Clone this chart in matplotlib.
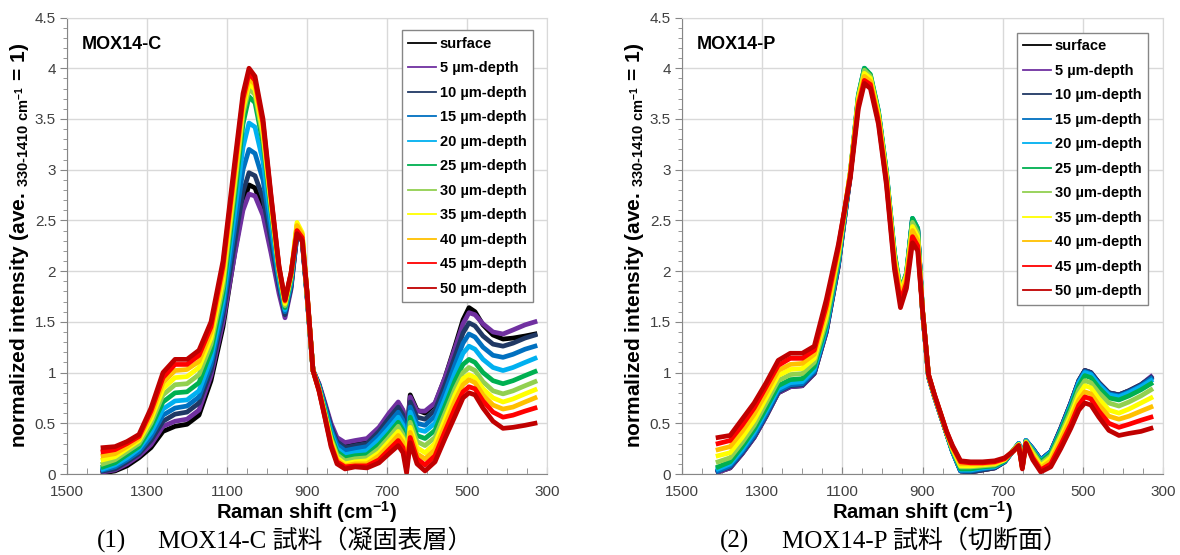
import matplotlib
matplotlib.use("Agg")
import matplotlib.pyplot as plt
from matplotlib.ticker import MultipleLocator, FuncFormatter

plt.rcParams["font.family"] = ["Liberation Sans", "Noto Sans CJK JP", "DejaVu Sans"]
plt.rcParams["mathtext.fontset"] = "custom"
plt.rcParams["mathtext.rm"] = "Liberation Sans"

# Raman shift grid (cm-1) shared by every spectrum
raman_shift = [1410, 1380, 1350, 1320, 1290, 1260, 1230, 1200, 1170, 1140, 1110,
               1080, 1060, 1045, 1030, 1010, 990, 970, 955, 940, 925, 912,
               900, 885, 870, 855, 840, 825, 805, 780, 750, 720, 695,
               672, 660, 651, 642, 625, 605, 580, 555, 530, 510, 495,
               480, 460, 435, 410, 385, 355, 330]
x_ticks = [1500, 1300, 1100, 900, 700, 500, 300]

labels = ["surface", "5 µm-depth", "10 µm-depth", "15 µm-depth", "20 µm-depth",
          "25 µm-depth", "30 µm-depth", "35 µm-depth", "40 µm-depth",
          "45 µm-depth", "50 µm-depth"]
colors = ["#000000", "#7030A0", "#203864", "#0070C0", "#00B0F0", "#00B050",
          "#92D050", "#FFFF00", "#FFC000", "#FF0000", "#C00000"]

# ---- MOX14-C (solidified surface layer) ----
c_surface = [0.01, 0.03, 0.08, 0.16, 0.26, 0.42, 0.47, 0.49, 0.58, 0.92, 1.45,
             2.2, 2.65, 2.85, 2.82, 2.6, 2.22, 1.82, 1.6, 1.85, 2.35, 2.3,
             1.75, 1.02, 0.88, 0.68, 0.48, 0.33, 0.27, 0.3, 0.33, 0.45, 0.58,
             0.7, 0.62, 0.38, 0.78, 0.63, 0.6, 0.69, 0.95, 1.26, 1.52, 1.64,
             1.6, 1.47, 1.37, 1.33, 1.34, 1.36, 1.38]
c_5 = [0.02, 0.04, 0.10, 0.18, 0.29, 0.47, 0.52, 0.54, 0.63, 0.97, 1.50,
       2.18, 2.6, 2.76, 2.74, 2.55, 2.18, 1.78, 1.54, 1.82, 2.36, 2.3,
       1.76, 1.02, 0.89, 0.7, 0.5, 0.36, 0.31, 0.33, 0.35, 0.46, 0.6,
       0.71, 0.63, 0.37, 0.76, 0.62, 0.62, 0.7, 0.95, 1.24, 1.48, 1.59,
       1.57, 1.48, 1.4, 1.38, 1.42, 1.47, 1.5]
c_10 = [0.03, 0.05, 0.12, 0.20, 0.33, 0.52, 0.59, 0.61, 0.70, 1.02, 1.57,
        2.3, 2.78, 2.97, 2.94, 2.72, 2.3, 1.85, 1.57, 1.84, 2.38, 2.31,
        1.76, 1.02, 0.88, 0.68, 0.47, 0.32, 0.26, 0.28, 0.3, 0.42, 0.55,
        0.66, 0.58, 0.33, 0.71, 0.56, 0.54, 0.63, 0.88, 1.16, 1.39, 1.49,
        1.46, 1.36, 1.28, 1.26, 1.29, 1.34, 1.37]
c_15 = [0.04, 0.07, 0.14, 0.22, 0.37, 0.58, 0.65, 0.67, 0.76, 1.08, 1.63,
        2.45, 3.0, 3.2, 3.16, 2.9, 2.4, 1.9, 1.6, 1.87, 2.4, 2.32,
        1.77, 1.02, 0.87, 0.66, 0.44, 0.29, 0.23, 0.25, 0.27, 0.38, 0.5,
        0.61, 0.53, 0.29, 0.66, 0.5, 0.48, 0.57, 0.81, 1.08, 1.29, 1.38,
        1.35, 1.25, 1.17, 1.15, 1.18, 1.23, 1.26]
c_20 = [0.05, 0.09, 0.16, 0.25, 0.41, 0.64, 0.72, 0.73, 0.82, 1.14, 1.70,
        2.6, 3.22, 3.46, 3.42, 3.08, 2.5, 1.94, 1.62, 1.9, 2.42, 2.33,
        1.77, 1.02, 0.86, 0.64, 0.41, 0.25, 0.19, 0.21, 0.23, 0.34, 0.45,
        0.56, 0.48, 0.25, 0.61, 0.44, 0.42, 0.5, 0.74, 1.0, 1.19, 1.26,
        1.23, 1.13, 1.05, 1.02, 1.05, 1.1, 1.14]
c_25 = [0.07, 0.11, 0.19, 0.27, 0.46, 0.71, 0.80, 0.81, 0.90, 1.21, 1.78,
        2.75, 3.45, 3.72, 3.66, 3.26, 2.6, 1.98, 1.64, 1.92, 2.44, 2.34,
        1.78, 1.02, 0.85, 0.62, 0.38, 0.22, 0.16, 0.18, 0.19, 0.29, 0.4,
        0.51, 0.43, 0.21, 0.56, 0.38, 0.35, 0.43, 0.67, 0.92, 1.08, 1.13,
        1.1, 1.0, 0.92, 0.89, 0.92, 0.97, 1.01]
c_30 = [0.10, 0.14, 0.22, 0.30, 0.50, 0.78, 0.88, 0.89, 0.98, 1.28, 1.85,
        2.85, 3.55, 3.8, 3.74, 3.32, 2.64, 2.0, 1.66, 1.94, 2.46, 2.36,
        1.78, 1.02, 0.84, 0.6, 0.35, 0.19, 0.13, 0.15, 0.16, 0.25, 0.36,
        0.47, 0.39, 0.17, 0.51, 0.32, 0.28, 0.36, 0.6, 0.84, 1.0, 1.05,
        1.02, 0.91, 0.82, 0.79, 0.82, 0.87, 0.91]
c_35 = [0.14, 0.17, 0.25, 0.33, 0.54, 0.84, 0.95, 0.96, 1.05, 1.34, 1.92,
        2.92, 3.6, 3.85, 3.79, 3.37, 2.67, 2.02, 1.68, 1.96, 2.48, 2.38,
        1.79, 1.02, 0.83, 0.58, 0.33, 0.16, 0.1, 0.12, 0.13, 0.21, 0.32,
        0.42, 0.35, 0.13, 0.46, 0.26, 0.21, 0.3, 0.54, 0.78, 0.94, 0.98,
        0.95, 0.84, 0.75, 0.71, 0.74, 0.79, 0.83]
c_40 = [0.18, 0.20, 0.27, 0.35, 0.58, 0.90, 1.02, 1.03, 1.11, 1.40, 1.99,
        2.98, 3.65, 3.9, 3.84, 3.42, 2.7, 2.03, 1.7, 1.97, 2.45, 2.36,
        1.79, 1.02, 0.83, 0.57, 0.31, 0.14, 0.08, 0.1, 0.1, 0.18, 0.28,
        0.38, 0.31, 0.09, 0.41, 0.2, 0.15, 0.24, 0.48, 0.72, 0.88, 0.93,
        0.9, 0.78, 0.68, 0.64, 0.66, 0.71, 0.75]
c_45 = [0.22, 0.24, 0.30, 0.37, 0.62, 0.95, 1.08, 1.08, 1.17, 1.45, 2.05,
        3.04, 3.7, 3.95, 3.88, 3.46, 2.73, 2.04, 1.71, 1.98, 2.4, 2.33,
        1.8, 1.02, 0.82, 0.56, 0.29, 0.12, 0.07, 0.08, 0.08, 0.14, 0.24,
        0.33, 0.26, 0.05, 0.36, 0.15, 0.09, 0.18, 0.42, 0.65, 0.81, 0.86,
        0.84, 0.72, 0.61, 0.56, 0.58, 0.62, 0.65]
c_50 = [0.26, 0.27, 0.32, 0.39, 0.65, 1.00, 1.13, 1.13, 1.22, 1.50, 2.10,
        3.1, 3.75, 4.0, 3.92, 3.5, 2.75, 2.05, 1.72, 1.98, 2.37, 2.3,
        1.8, 1.02, 0.82, 0.55, 0.27, 0.1, 0.05, 0.07, 0.06, 0.11, 0.2,
        0.28, 0.21, 0.01, 0.31, 0.1, 0.03, 0.12, 0.35, 0.57, 0.75, 0.8,
        0.78, 0.65, 0.52, 0.45, 0.46, 0.48, 0.5]

# ---- MOX14-P (cut section) ----
p_surface = [0.02, 0.06, 0.2, 0.36, 0.57, 0.8, 0.86, 0.87, 0.99, 1.4, 2.05,
             2.95, 3.7, 3.98, 3.9, 3.55, 2.95, 2.15, 1.78, 1.95, 2.5, 2.4,
             1.6, 0.96, 0.76, 0.58, 0.4, 0.22, 0.03, 0.02, 0.04, 0.06, 0.12,
             0.24, 0.3, 0.08, 0.33, 0.25, 0.14, 0.22, 0.45, 0.7, 0.92, 1.02,
             1.0, 0.9, 0.8, 0.78, 0.82, 0.88, 0.95]
p_5 = [0.02, 0.06, 0.2, 0.36, 0.57, 0.8, 0.86, 0.87, 0.99, 1.4, 2.05,
       2.95, 3.7, 3.98, 3.9, 3.55, 2.95, 2.15, 1.78, 1.95, 2.5, 2.4,
       1.6, 0.96, 0.76, 0.58, 0.4, 0.22, 0.03, 0.02, 0.04, 0.06, 0.12,
       0.24, 0.3, 0.08, 0.33, 0.25, 0.14, 0.22, 0.45, 0.7, 0.92, 1.02,
       1.0, 0.9, 0.8, 0.78, 0.82, 0.88, 0.96]
p_10 = [0.03, 0.07, 0.21, 0.37, 0.58, 0.81, 0.87, 0.88, 1.0, 1.41, 2.06,
        2.96, 3.71, 3.99, 3.91, 3.56, 2.96, 2.16, 1.79, 1.96, 2.51, 2.41,
        1.6, 0.96, 0.76, 0.58, 0.4, 0.22, 0.03, 0.02, 0.04, 0.06, 0.12,
        0.24, 0.3, 0.08, 0.33, 0.25, 0.14, 0.22, 0.45, 0.7, 0.92, 1.02,
        1.0, 0.9, 0.8, 0.78, 0.82, 0.88, 0.95]
p_15 = [0.03, 0.08, 0.22, 0.38, 0.59, 0.82, 0.88, 0.89, 1.01, 1.42, 2.07,
        2.96, 3.72, 4.0, 3.92, 3.57, 2.97, 2.17, 1.8, 1.97, 2.52, 2.42,
        1.61, 0.96, 0.76, 0.58, 0.4, 0.22, 0.03, 0.03, 0.05, 0.07, 0.12,
        0.24, 0.3, 0.08, 0.33, 0.25, 0.14, 0.22, 0.44, 0.69, 0.91, 1.01,
        0.99, 0.89, 0.79, 0.77, 0.81, 0.87, 0.94]
p_20 = [0.05, 0.1, 0.24, 0.41, 0.62, 0.84, 0.9, 0.91, 1.03, 1.44, 2.09,
        2.97, 3.73, 4.0, 3.93, 3.58, 2.98, 2.18, 1.81, 1.98, 2.52, 2.42,
        1.61, 0.97, 0.76, 0.59, 0.4, 0.22, 0.04, 0.04, 0.06, 0.07, 0.13,
        0.24, 0.3, 0.08, 0.33, 0.24, 0.13, 0.21, 0.43, 0.68, 0.9, 1.0,
        0.98, 0.88, 0.78, 0.76, 0.8, 0.86, 0.92]
p_25 = [0.07, 0.12, 0.27, 0.44, 0.65, 0.87, 0.93, 0.94, 1.06, 1.47, 2.11,
        2.97, 3.74, 4.0, 3.94, 3.58, 2.98, 2.18, 1.81, 1.98, 2.52, 2.42,
        1.61, 0.97, 0.77, 0.59, 0.4, 0.23, 0.05, 0.05, 0.07, 0.08, 0.13,
        0.24, 0.29, 0.07, 0.32, 0.23, 0.12, 0.2, 0.42, 0.66, 0.87, 0.97,
        0.95, 0.85, 0.75, 0.73, 0.77, 0.83, 0.89]
p_30 = [0.12, 0.16, 0.31, 0.48, 0.7, 0.92, 0.98, 0.99, 1.1, 1.51, 2.14,
        2.98, 3.72, 3.98, 3.92, 3.56, 2.96, 2.16, 1.8, 1.97, 2.48, 2.38,
        1.61, 0.97, 0.77, 0.59, 0.41, 0.24, 0.07, 0.07, 0.08, 0.09, 0.14,
        0.24, 0.29, 0.07, 0.32, 0.22, 0.1, 0.18, 0.39, 0.62, 0.83, 0.92,
        0.9, 0.8, 0.7, 0.67, 0.71, 0.77, 0.83]
p_35 = [0.18, 0.21, 0.36, 0.53, 0.75, 0.97, 1.03, 1.04, 1.14, 1.56, 2.17,
        2.98, 3.7, 3.95, 3.9, 3.54, 2.94, 2.13, 1.78, 1.95, 2.44, 2.34,
        1.62, 0.97, 0.77, 0.59, 0.41, 0.25, 0.08, 0.08, 0.09, 0.1, 0.14,
        0.24, 0.29, 0.07, 0.31, 0.2, 0.08, 0.16, 0.36, 0.58, 0.78, 0.87,
        0.85, 0.74, 0.63, 0.6, 0.64, 0.7, 0.75]
p_40 = [0.24, 0.27, 0.42, 0.59, 0.8, 1.02, 1.08, 1.09, 1.18, 1.61, 2.2,
        2.97, 3.67, 3.92, 3.87, 3.51, 2.91, 2.1, 1.75, 1.92, 2.4, 2.3,
        1.62, 0.98, 0.77, 0.6, 0.41, 0.26, 0.1, 0.1, 0.1, 0.11, 0.15,
        0.23, 0.28, 0.06, 0.31, 0.18, 0.06, 0.13, 0.33, 0.54, 0.73, 0.81,
        0.79, 0.68, 0.57, 0.54, 0.57, 0.62, 0.66]
p_45 = [0.3, 0.33, 0.48, 0.65, 0.86, 1.07, 1.14, 1.14, 1.22, 1.66, 2.23,
        2.95, 3.64, 3.88, 3.84, 3.48, 2.88, 2.06, 1.7, 1.88, 2.34, 2.25,
        1.62, 0.98, 0.78, 0.6, 0.42, 0.27, 0.12, 0.11, 0.11, 0.12, 0.15,
        0.23, 0.28, 0.06, 0.3, 0.16, 0.04, 0.1, 0.29, 0.49, 0.68, 0.76,
        0.74, 0.62, 0.5, 0.46, 0.49, 0.53, 0.56]
p_50 = [0.36, 0.38, 0.54, 0.7, 0.9, 1.12, 1.19, 1.19, 1.26, 1.72, 2.26,
        2.92, 3.6, 3.85, 3.8, 3.45, 2.85, 2.02, 1.64, 1.83, 2.28, 2.2,
        1.62, 0.98, 0.78, 0.6, 0.42, 0.28, 0.13, 0.12, 0.12, 0.13, 0.16,
        0.23, 0.28, 0.05, 0.3, 0.14, 0.02, 0.07, 0.25, 0.45, 0.63, 0.7,
        0.68, 0.56, 0.43, 0.38, 0.4, 0.42, 0.45]

c_series = [c_surface, c_5, c_10, c_15, c_20, c_25, c_30, c_35, c_40, c_45, c_50]
p_series = [p_surface, p_5, p_10, p_15, p_20, p_25, p_30, p_35, p_40, p_45, p_50]

ylabel = "normalized intensity (ave. $_{\\mathregular{330\u20101410\\ cm^{-1}}}$ = 1)"


def draw_panel(ax, series, name, leg_anchor):
    for ys, lab, col in zip(series, labels, colors):
        ax.plot(raman_shift, ys, color=col, lw=3.4, label=lab,
                solid_joinstyle="round")
    ax.set_xlim(1500, 300)
    ax.set_ylim(0, 4.5)
    ax.set_xticks(x_ticks)
    ax.xaxis.set_minor_locator(MultipleLocator(50))
    ax.yaxis.set_major_locator(MultipleLocator(0.5))
    ax.yaxis.set_minor_locator(MultipleLocator(0.1))
    ax.yaxis.set_major_formatter(FuncFormatter(lambda v, p: "%g" % v))
    ax.grid(True, which="major", color="#d9d9d9", lw=1.0)
    ax.set_axisbelow(True)
    ax.tick_params(axis="x", which="both", direction="in", colors="#868686",
                   labelcolor="#404040", labelsize=11, pad=8)
    ax.tick_params(axis="x", which="major", length=5)
    ax.tick_params(axis="x", which="minor", length=4)
    ax.tick_params(axis="y", which="both", direction="out", colors="#868686",
                   labelcolor="#404040", labelsize=11, pad=3)
    ax.tick_params(axis="y", which="major", length=5)
    ax.tick_params(axis="y", which="minor", length=3)
    for side in ["left", "bottom"]:
        ax.spines[side].set_color("#868686")
    for side in ["top", "right"]:
        ax.spines[side].set_color("#d9d9d9")
    ax.set_xlabel("Raman shift (cm$^{\\mathregular{-1}}$)", fontsize=14.5,
                  fontweight="bold", labelpad=0)
    ax.set_ylabel(ylabel, fontsize=15, fontweight="bold", labelpad=3)
    ax.text(0.031, 0.94, name, transform=ax.transAxes, fontsize=13,
            fontweight="bold", va="center", ha="left")
    leg = ax.legend(loc="upper right", bbox_to_anchor=leg_anchor,
                    borderaxespad=0, fancybox=False, edgecolor="#868686",
                    framealpha=1, prop={"weight": "bold", "size": 10.5},
                    handlelength=1.9, handletextpad=0.25, labelspacing=0.72,
                    borderpad=0.45)
    leg.get_frame().set_linewidth(1.0)
    for line in leg.get_lines():
        line.set_linewidth(1.3)


fig = plt.figure(figsize=(11.8, 5.55), dpi=100)
ax1 = fig.add_axes([67 / 1180, 1 - 474 / 555, 480 / 1180, 456.5 / 555])
ax2 = fig.add_axes([682 / 1180, 1 - 474 / 555, 481 / 1180, 456.5 / 555])

draw_panel(ax1, c_series, "MOX14-C", (0.971, 0.972))
draw_panel(ax2, p_series, "MOX14-P", (0.969, 0.967))

cap_font = ["Liberation Serif", "Noto Sans CJK JP"]
fig.text(97 / 1180, 1 - 548 / 555, "(1)", fontsize=18, family=cap_font,
         va="baseline")
fig.text(158 / 1180, 1 - 548 / 555, "MOX14-C 試料（凝固表層）", fontsize=18,
         family=cap_font, va="baseline")
fig.text(720 / 1180, 1 - 548 / 555, "(2)", fontsize=18, family=cap_font,
         va="baseline")
fig.text(782 / 1180, 1 - 548 / 555, "MOX14-P 試料（切断面）", fontsize=18,
         family=cap_font, va="baseline")

fig.savefig("out.png", dpi=100)
